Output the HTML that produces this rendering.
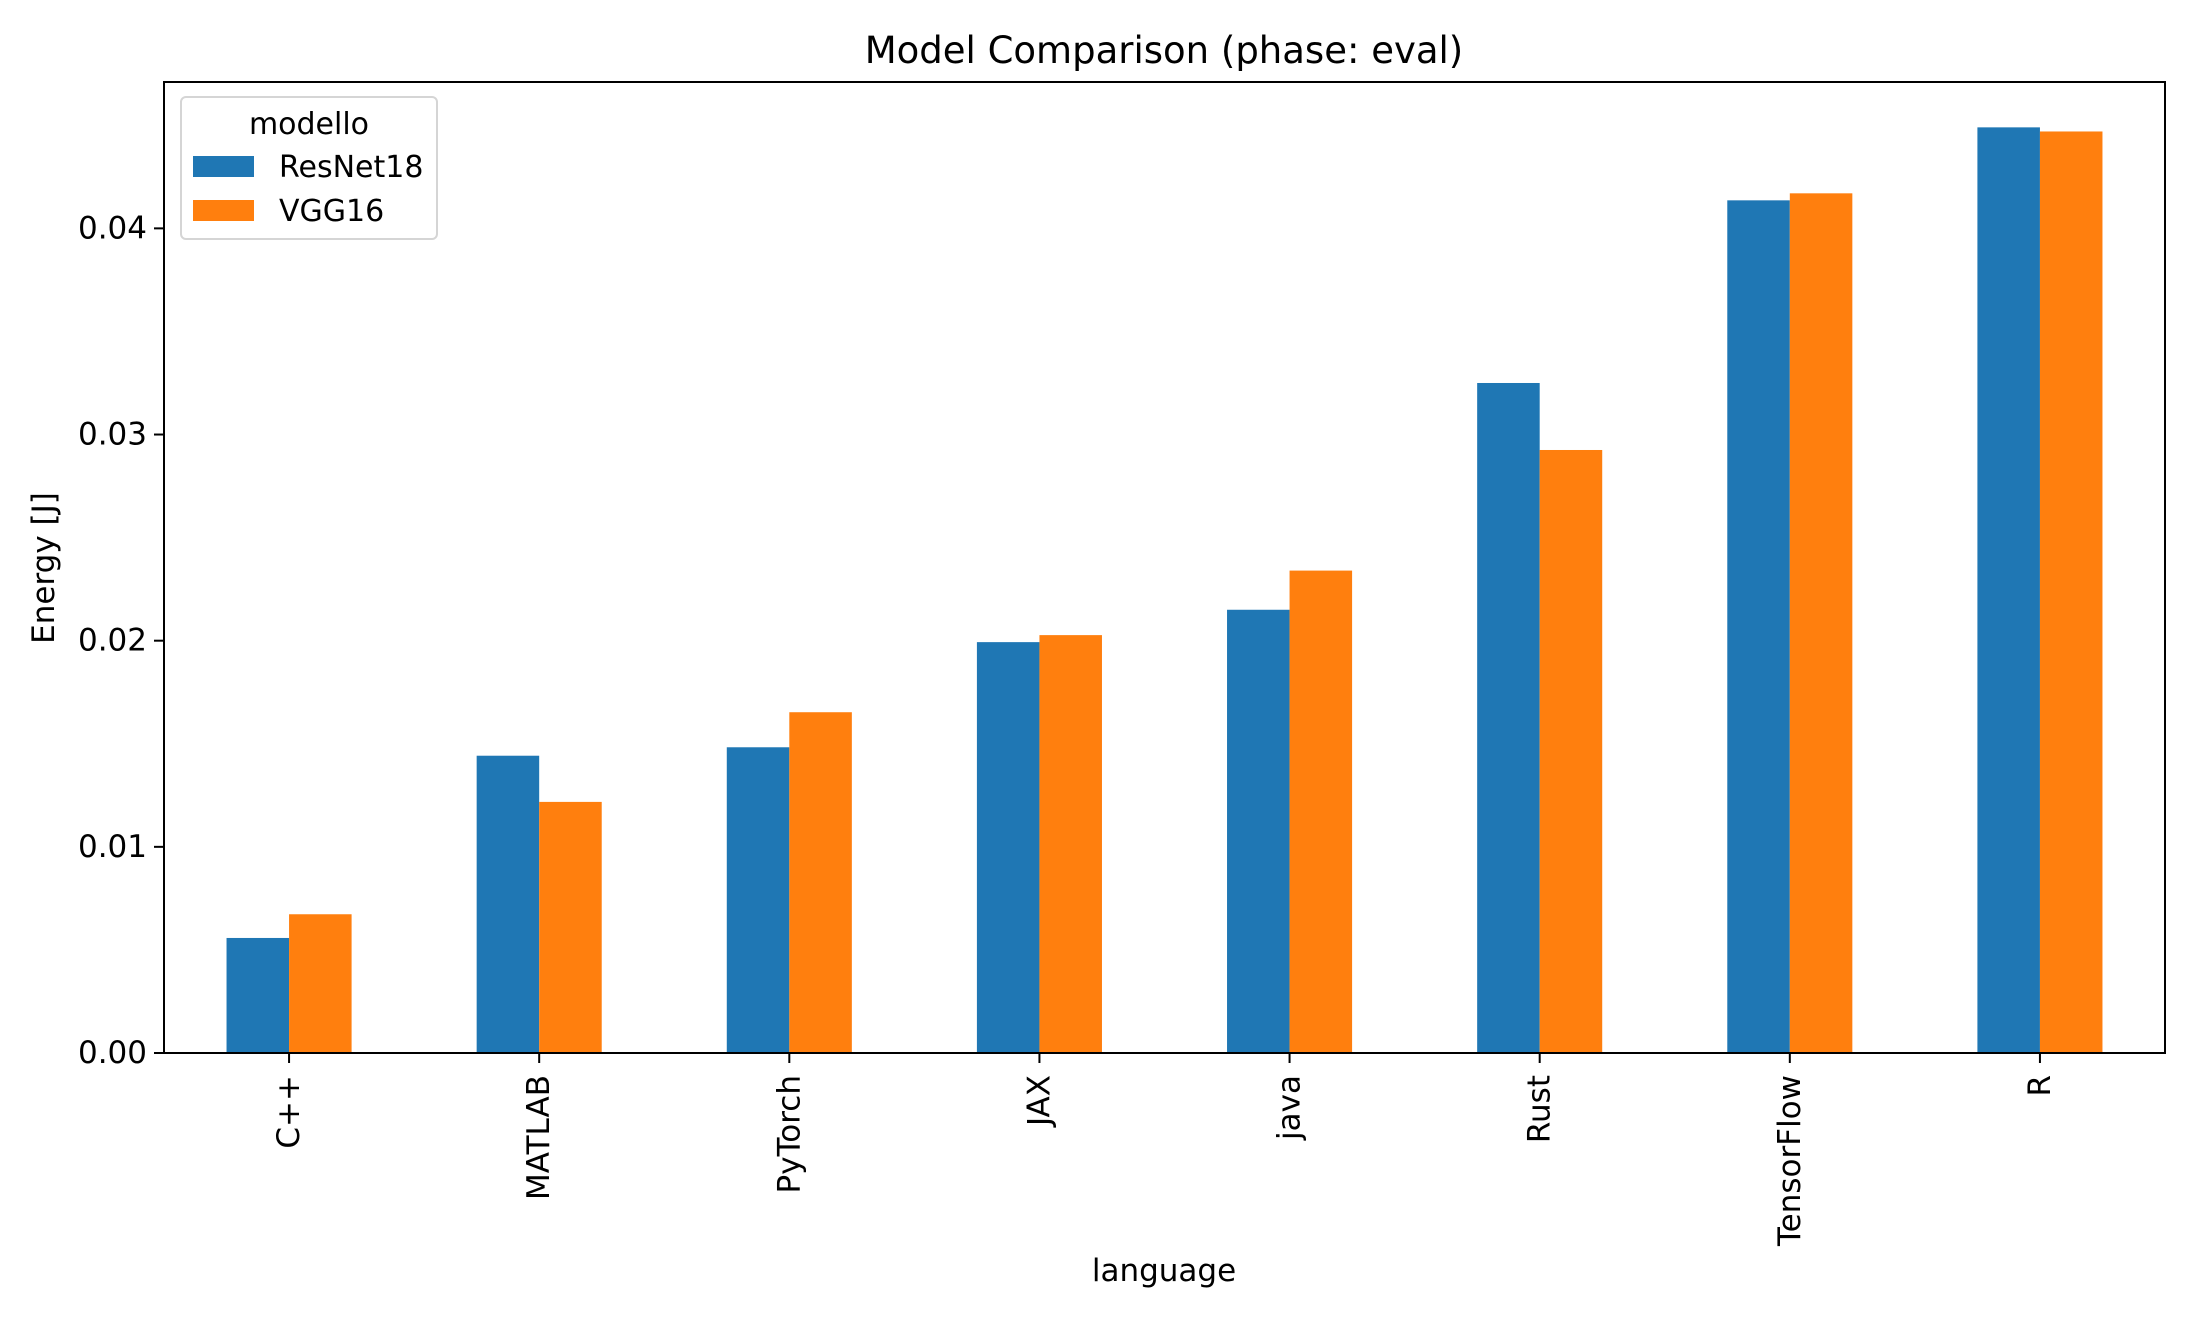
<!DOCTYPE html>
<html><head><meta charset="utf-8"><style>body{margin:0;background:#fff}svg{display:block;font-family:"DejaVu Sans","Liberation Sans",sans-serif}</style></head>
<body>
<svg id="chart" width="2200" height="1320" viewBox="0 0 2200 1320">
<text x="1164" y="63" font-size="37" text-anchor="middle">Model Comparison (phase: eval)</text>
<text transform="translate(54,568) rotate(-90)" font-size="31" text-anchor="middle">Energy [J]</text>
<text x="1164" y="1281" font-size="31" text-anchor="middle">language</text>
<g id="bars"></g><g id="ticks"></g>
<rect x="164" y="82" width="2001" height="971" fill="none" stroke="#000" stroke-width="2"/>
<g>
<rect x="181" y="97" width="256" height="142" rx="5" fill="#fff" fill-opacity="0.8" stroke="#d5d5d5" stroke-width="2"/>
<text x="309" y="134" font-size="30" text-anchor="middle">modello</text>
<rect x="193" y="156" width="61" height="21" fill="#1f77b4"/>
<text x="279" y="177" font-size="30">ResNet18</text>
<rect x="193" y="200" width="61" height="21" fill="#ff7f0e"/>
<text x="279" y="221" font-size="30">VGG16</text>
</g>
</svg>
<script>
const categories = ["C++","MATLAB","PyTorch","JAX","java","Rust","TensorFlow","R"];
const resnet18 = [0.00558,0.01442,0.01483,0.01993,0.0215,0.0325,0.04136,0.0449];
const vgg16 = [0.00673,0.01218,0.01653,0.02027,0.0234,0.02925,0.0417,0.0447];
const yTicks = [0,0.01,0.02,0.03,0.04];
const yTickLabels = ["0.00","0.01","0.02","0.03","0.04"];
const NS="http://www.w3.org/2000/svg";
const L=164,R=2165,T=82,B=1053,YMAX=0.0471;
const xs=i=>L+(R-L)*(i+0.5)/categories.length;
const ys=v=>B-(B-T)*v/YMAX;
const bw=(R-L)/categories.length*0.25;
const bars=document.getElementById('bars'),ticks=document.getElementById('ticks');
function mk(t,a,p){const e=document.createElementNS(NS,t);for(const k in a)e.setAttribute(k,a[k]);p.appendChild(e);return e;}
categories.forEach((c,i)=>{
  const cx=xs(i);
  const b1=mk('rect',{x:cx-bw,y:ys(resnet18[i]),width:bw,height:B-ys(resnet18[i]),fill:'#1f77b4'},bars);
  
  
  const b2=mk('rect',{x:cx,y:ys(vgg16[i]),width:bw,height:B-ys(vgg16[i]),fill:'#ff7f0e'},bars);
  
  
  const tk=mk('line',{x1:cx,x2:cx,y1:B,y2:B+10,stroke:'#000','stroke-width':2},ticks);
  
  
  const tl=mk('text',{transform:`translate(${cx},${B+22}) rotate(-90)`,'font-size':31,'text-anchor':'end','dominant-baseline':'central'},ticks);
  tl.textContent=c;
  
  
});
yTicks.forEach((v,i)=>{
  const y=ys(v);
  const tk=mk('line',{x1:L-10,x2:L,y1:y,y2:y,stroke:'#000','stroke-width':2},ticks);
  
  
  const tl=mk('text',{x:L-17,y:y,'font-size':31,'text-anchor':'end','dominant-baseline':'central'},ticks);
  tl.textContent=yTickLabels[i];
  
  
});
</script>
</body></html>
